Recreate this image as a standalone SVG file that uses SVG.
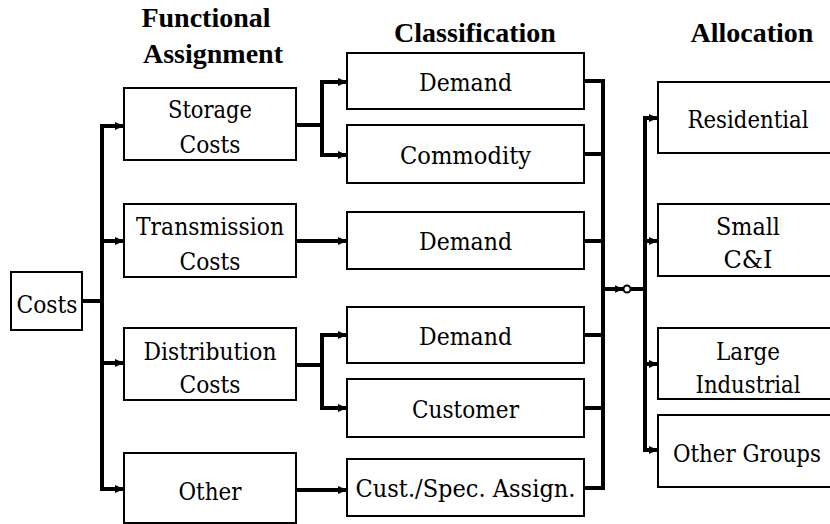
<svg xmlns="http://www.w3.org/2000/svg" width="830" height="524" viewBox="0 0 830 524">
<defs>
<marker id="ah" markerUnits="userSpaceOnUse" markerWidth="9" markerHeight="8" refX="9" refY="4" orient="auto">
<path d="M0,0 L9,4 L0,8 z" fill="#000"/>
</marker>
<style>
.box{fill:#fff;stroke:#000;stroke-width:2}
.t{font-family:"DejaVu Serif","Liberation Serif",serif;font-size:24.5px;fill:#000;text-anchor:middle}
.h{font-family:"Liberation Serif","Times New Roman",serif;font-size:28px;font-weight:bold;fill:#000;text-anchor:middle}
.c{fill:none;stroke:#000;stroke-width:4}
.a{fill:none;stroke:#000;stroke-width:4;marker-end:url(#ah)}
</style>
</defs>
<rect width="830" height="524" fill="#fff"/>
<g id="headers">
<text class="h" x="206" y="27">Functional</text>
<text class="h" x="213" y="63">Assignment</text>
<text class="h" x="475" y="42">Classification</text>
<text class="h" x="752" y="42">Allocation</text>
</g>
<g id="connectors">
<path class="c" d="M82,301 H102 M102,124 V491"/>
<path class="a" d="M102,126 H124"/>
<path class="a" d="M102,241 H124"/>
<path class="a" d="M102,363 H124"/>
<path class="a" d="M102,489 H124"/>
<path class="c" d="M296,125 H322 M322,80 V157"/>
<path class="a" d="M320,82 H347"/>
<path class="a" d="M320,155 H347"/>
<path class="a" d="M296,241 H347"/>
<path class="c" d="M296,365 H322 M322,333 V410"/>
<path class="a" d="M320,335 H347"/>
<path class="a" d="M320,408 H347"/>
<path class="a" d="M296,490 H347"/>
<path class="c" d="M584,81 H605 M584,154 H605 M584,241 H605 M584,335 H605 M584,408 H605 M584,488 H605 M603,79 V490"/>
<path class="a" d="M603,289 H623.5"/>
<circle cx="627" cy="289" r="3.5" fill="#fff" stroke="#000" stroke-width="2"/>
<path class="c" d="M630.5,289 H647 M645,116 V452"/>
<path class="a" d="M643,118 H658"/>
<path class="a" d="M643,241 H658"/>
<path class="a" d="M643,364 H658"/>
<path class="a" d="M643,450 H658"/>
</g>
<g id="costs">
<rect class="box" x="11" y="272" width="71" height="58"/>
<text class="t" x="47" y="313" textLength="61" lengthAdjust="spacingAndGlyphs">Costs</text>
</g>
<g id="storage">
<rect class="box" x="124" y="88" width="172" height="72"/>
<text class="t" x="210" y="118" textLength="84" lengthAdjust="spacingAndGlyphs">Storage</text>
<text class="t" x="210" y="153" textLength="61" lengthAdjust="spacingAndGlyphs">Costs</text>
</g>
<g id="transmission">
<rect class="box" x="124" y="204" width="172" height="73"/>
<text class="t" x="210" y="235" textLength="148" lengthAdjust="spacingAndGlyphs">Transmission</text>
<text class="t" x="210" y="270" textLength="61" lengthAdjust="spacingAndGlyphs">Costs</text>
</g>
<g id="distribution">
<rect class="box" x="124" y="328" width="172" height="72"/>
<text class="t" x="210" y="360" textLength="133" lengthAdjust="spacingAndGlyphs">Distribution</text>
<text class="t" x="210" y="393" textLength="61" lengthAdjust="spacingAndGlyphs">Costs</text>
</g>
<g id="other">
<rect class="box" x="124" y="453" width="172" height="70"/>
<text class="t" x="210" y="500" textLength="63" lengthAdjust="spacingAndGlyphs">Other</text>
</g>
<g id="demand1">
<rect class="box" x="347" y="53" width="237" height="56"/>
<text class="t" x="465.5" y="91" textLength="93" lengthAdjust="spacingAndGlyphs">Demand</text>
</g>
<g id="commodity">
<rect class="box" x="347" y="125" width="237" height="58"/>
<text class="t" x="465.5" y="164" textLength="131" lengthAdjust="spacingAndGlyphs">Commodity</text>
</g>
<g id="demand2">
<rect class="box" x="347" y="212" width="237" height="57"/>
<text class="t" x="465.5" y="250" textLength="93" lengthAdjust="spacingAndGlyphs">Demand</text>
</g>
<g id="demand3">
<rect class="box" x="347" y="307" width="237" height="56"/>
<text class="t" x="465.5" y="345" textLength="93" lengthAdjust="spacingAndGlyphs">Demand</text>
</g>
<g id="customer">
<rect class="box" x="347" y="379" width="237" height="58"/>
<text class="t" x="465.5" y="418" textLength="107" lengthAdjust="spacingAndGlyphs">Customer</text>
</g>
<g id="custspec">
<rect class="box" x="347" y="459" width="237" height="57"/>
<text class="t" x="465.5" y="497" textLength="220" lengthAdjust="spacingAndGlyphs">Cust./Spec. Assign.</text>
</g>
<g id="residential">
<rect class="box" x="658" y="82" width="182" height="71"/>
<text class="t" x="748" y="128" textLength="121" lengthAdjust="spacingAndGlyphs">Residential</text>
</g>
<g id="smallci">
<rect class="box" x="658" y="204" width="182" height="72"/>
<text class="t" x="748" y="235" textLength="64" lengthAdjust="spacingAndGlyphs">Small</text>
<text class="t" x="748" y="268" textLength="49" lengthAdjust="spacingAndGlyphs">C&amp;I</text>
</g>
<g id="largeind">
<rect class="box" x="658" y="328" width="182" height="71"/>
<text class="t" x="748" y="360" textLength="64" lengthAdjust="spacingAndGlyphs">Large</text>
<text class="t" x="748" y="393" textLength="105" lengthAdjust="spacingAndGlyphs">Industrial</text>
</g>
<g id="othergroups">
<rect class="box" x="658" y="415" width="182" height="72"/>
<text class="t" x="747" y="462" textLength="148" lengthAdjust="spacingAndGlyphs">Other Groups</text>
</g>
</svg>
